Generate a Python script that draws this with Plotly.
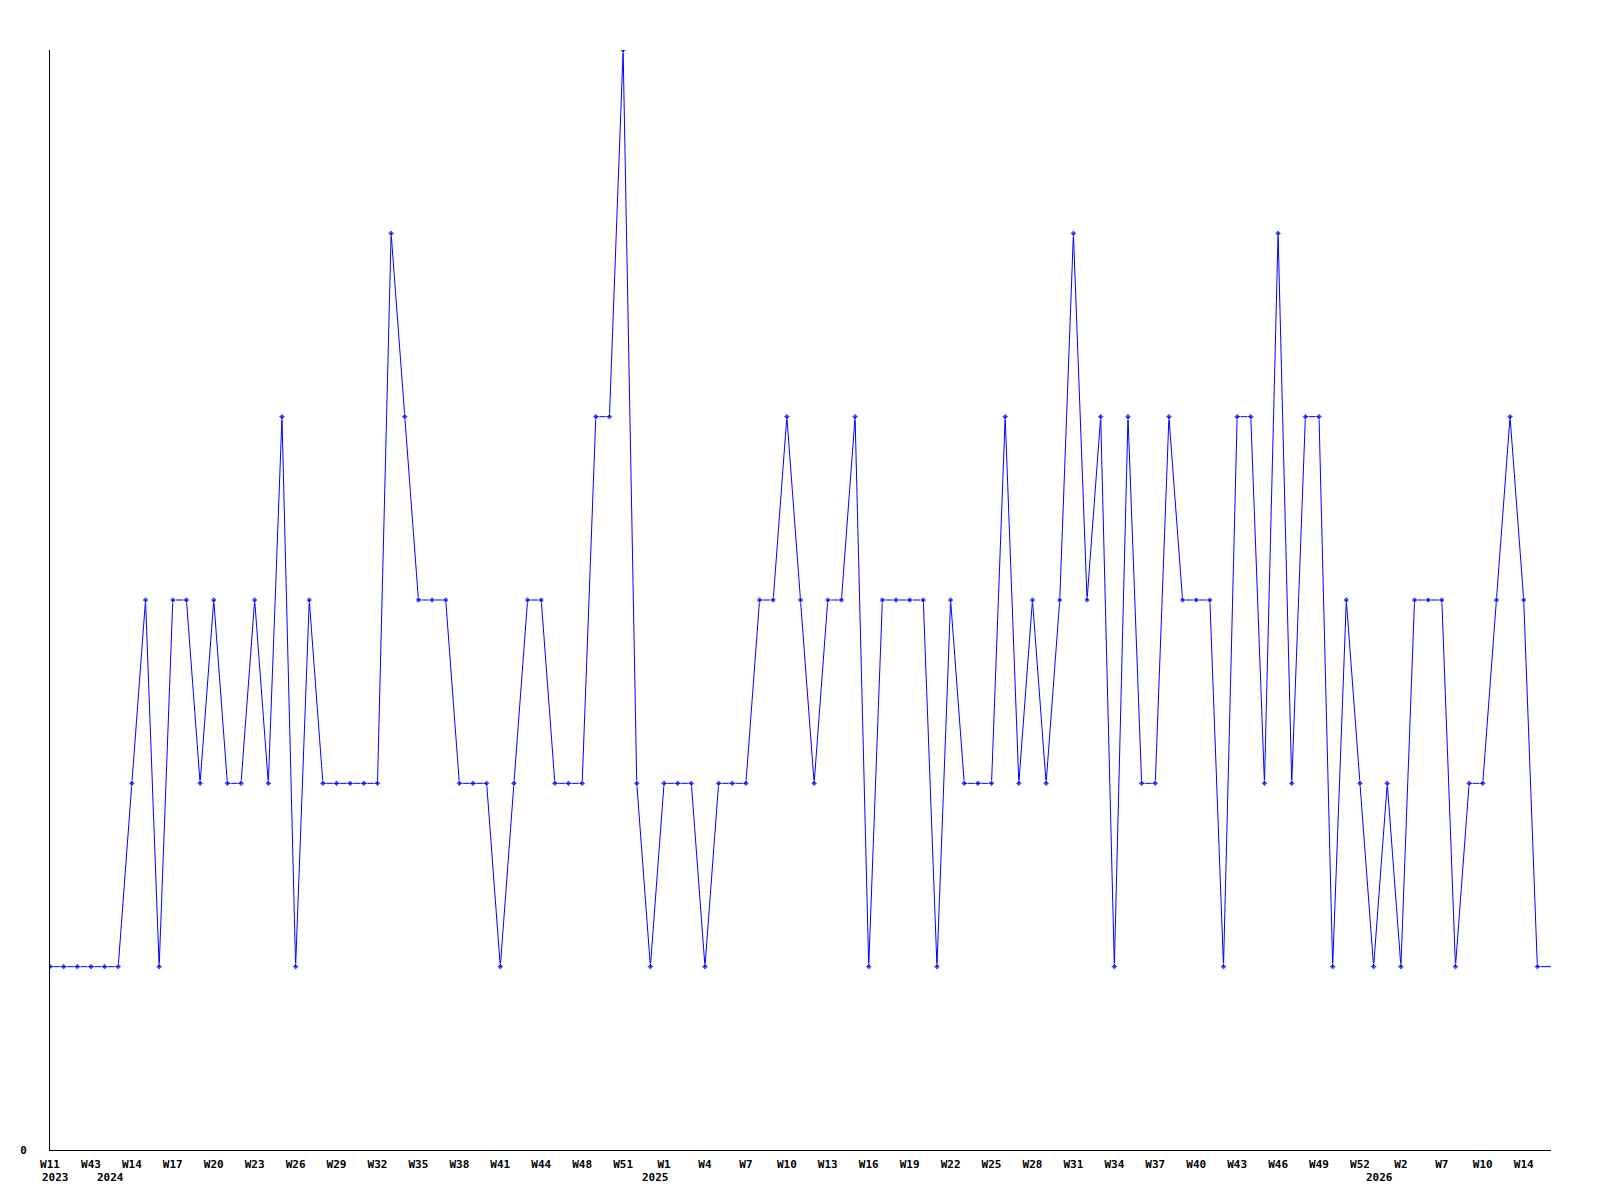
import plotly.graph_objects as go

# weekly series values (one per data point, left to right)
values = [
    1, 1, 1, 1, 1, 1, 2, 3, 1, 3,
    3, 2, 3, 2, 2, 3, 2, 4, 1, 3,
    2, 2, 2, 2, 2, 5, 4, 3, 3, 3,
    2, 2, 2, 1, 2, 3, 3, 2, 2, 2,
    4, 4, 6, 2, 1, 2, 2, 2, 1, 2,
    2, 2, 3, 3, 4, 3, 2, 3, 3, 4,
    1, 3, 3, 3, 3, 1, 3, 2, 2, 2,
    4, 2, 3, 2, 3, 5, 3, 4, 1, 4,
    2, 2, 4, 3, 3, 3, 1, 4, 4, 2,
    5, 2, 4, 4, 1, 3, 2, 1, 2, 1,
    3, 3, 3, 1, 2, 2, 3, 4, 3, 1,
    1,
]

# week tick labels (every third data point)
tick_labels = [
    "W11", "W43", "W14", "W17", "W20", "W23", "W26", "W29", "W32", "W35",
    "W38", "W41", "W44", "W48", "W51", "W1", "W4", "W7", "W10", "W13",
    "W16", "W19", "W22", "W25", "W28", "W31", "W34", "W37", "W40", "W43",
    "W46", "W49", "W52", "W2", "W7", "W10", "W14",
]
tick_step = 3

# year labels and the index of the first data point of each year
year_labels = ["2023", "2024", "2025", "2026"]
year_start_index = [0, 4, 44, 97]

n = len(values)
x_idx = list(range(n))
tick_vals = [i * tick_step for i in range(len(tick_labels))]

marker_sizes = [5] * (n - 1) + [0]

font_family = "DejaVu Sans Mono"

fig = go.Figure()
fig.add_trace(go.Scatter(
    x=x_idx,
    y=values,
    mode="lines+markers",
    line=dict(color="#0000FF", width=1),
    marker=dict(symbol="diamond", size=marker_sizes, color="#0000FF"),
    showlegend=False,
    hoverinfo="x+y",
))

for label, idx in zip(year_labels, year_start_index):
    fig.add_annotation(
        x=idx, y=0, xref="x", yref="paper",
        text=label, showarrow=False,
        xanchor="left", yanchor="middle",
        xshift=-10, yshift=-27,
        font=dict(family=font_family, size=11, color="black", weight="bold"),
    )

fig.update_layout(
    width=1592, height=1192,
    margin=dict(l=42, r=49, t=42, b=50),
    paper_bgcolor="white",
    plot_bgcolor="white",
    font=dict(family=font_family, size=11, color="black"),
)
fig.update_xaxes(
    range=[0, n - 1],
    tickmode="array",
    tickvals=tick_vals,
    ticktext=tick_labels,
    tickangle=0,
    ticks="",
    showgrid=False,
    zeroline=False,
    showline=True,
    linecolor="black",
    linewidth=1,
    tickfont=dict(family=font_family, size=11, color="black", weight="bold"),
    ticklabelstandoff=4,
)
fig.update_yaxes(
    range=[0, 6],
    tickmode="array",
    tickvals=[0],
    ticktext=["0"],
    ticks="",
    showgrid=False,
    zeroline=False,
    showline=True,
    linecolor="black",
    linewidth=1,
    tickfont=dict(family=font_family, size=11, color="black", weight="bold"),
    ticklabelstandoff=20,
)

fig.write_html("out.html")
